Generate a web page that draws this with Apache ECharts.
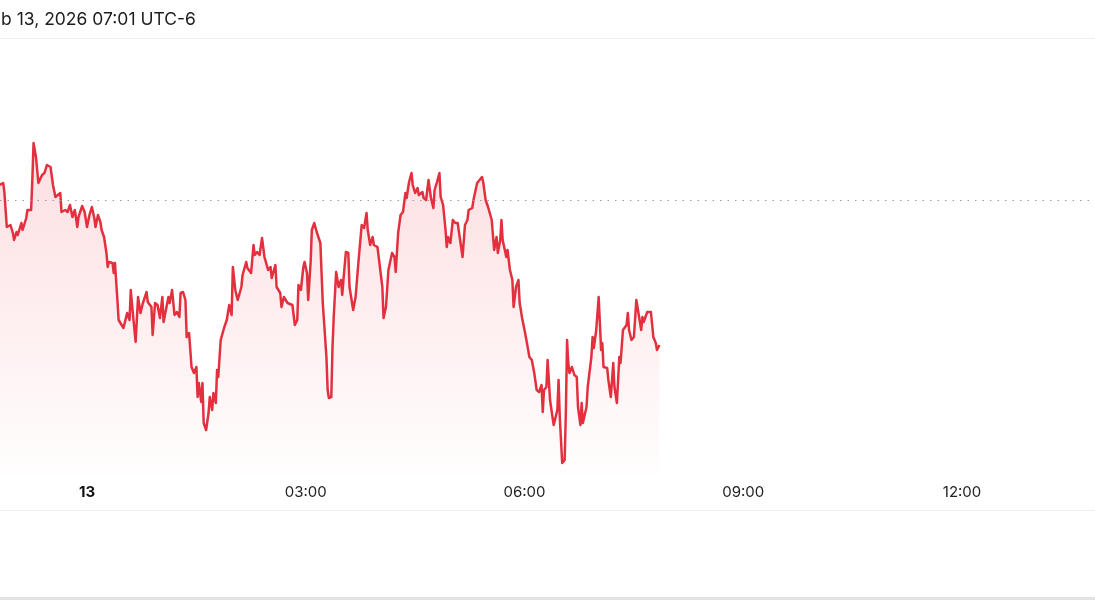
<!DOCTYPE html>
<html>
<head>
<meta charset="utf-8">
<script src="https://cdn.jsdelivr.net/npm/echarts@6/dist/echarts.min.js"></script>
<style>
html,body{margin:0;padding:0;background:#fff;}
#c{width:1095px;height:600px;}
</style>
</head>
<body>
<div id="c"></div>
<script>
// Minutes relative to 00:00 on Feb 13 (negative = Feb 12 evening)
const minutes = [
-72,-69,-68,-67,-66,-63,-61,-60,-58,-57,-54,-53,-50,-49,-46,-45,-44,-42,-40,-37,
-35,-33,-30,-29,-28,-26,-24,-22,-21,-18,-16,-14,-12,-10,-8,-7,-4,-2,0,2,
4,6,7,9,11,12,14,16,17,18,21,22,23,25,26,30,31,33,35,36,
38,40,42,44,46,49,50,53,54,56,58,60,62,63,
67,68,70,72,74,76,77,79,81,82,84,86,88,90,91,92,94,95,96,98,
100,101,103,104,106,107,108,110,113,115,117,119,120,122,124,127,128,131,132,133,
135,137,138,140,142,144,146,147,149,151,152,155,156,159,160,162,165,166,169,171,
173,174,176,178,179,181,182,184,185,187,189,192,194,197,198,199,
201,202,203,205,207,209,210,211,213,215,216,219,221,222,223,226,228,230,231,233,
235,236,239,240,243,244,246,248,251,253,254,256,258,260,262,263,265,267,268,270,
272,273,276,277,279,281,283,285,286,288,290,291,293,295,296,297,299,301,303,305,
307,309,311,313,314,317,318,321,323,325,326,328,330,333,335,337,
338,340,341,342,345,346,348,350,351,353,355,356,358,360,362,364,366,368,370,372,
374,375,376,378,379,381,383,384,387,388,389,391,393,394,395,396,397,399,401,403,
404,406,407,408,411,412,415,416,417,419,421,422,423,424,425,428,429,431,433,434,
436,438,439,441,444,445,446,448,450,452,453,456,457,458,461,462,464,466,468,469,
471
];
const prices = [
3.15,3.17,3.08,3.07,2.73,2.75,2.67,2.60,2.68,2.65,2.77,2.70,2.82,2.90,2.90,3.20,3.57,3.43,3.17,3.25,
3.27,3.35,3.33,3.32,3.15,3.03,3.05,3.07,2.88,2.90,2.88,2.95,2.83,2.90,2.73,2.83,2.94,2.88,2.73,2.85,
2.93,2.82,2.73,2.85,2.78,2.70,2.63,2.47,2.33,2.38,2.37,2.27,2.37,2.00,1.80,1.72,1.77,1.87,1.80,2.10,
1.83,1.58,2.03,1.87,1.97,2.08,1.98,1.93,1.65,1.97,1.95,1.82,2.03,1.78,
2.03,1.97,2.10,1.85,1.88,1.83,2.07,2.08,2.00,1.63,1.67,1.33,1.27,1.33,1.03,1.17,0.98,1.17,0.77,0.70,
0.87,1.03,0.90,1.07,0.97,1.30,1.23,1.60,1.73,1.80,1.95,1.85,2.33,2.10,2.00,2.13,2.25,2.38,2.32,2.33,
2.27,2.55,2.45,2.48,2.45,2.62,2.43,2.45,2.30,2.33,2.22,2.35,2.13,2.07,1.93,2.03,1.97,1.98,1.95,1.75,
1.80,2.15,2.10,2.33,2.38,2.27,2.00,2.38,2.70,2.77,2.68,2.57,1.97,1.43,1.10,1.02,
1.03,1.53,1.83,2.28,2.13,2.20,2.05,2.20,2.48,2.47,2.13,1.90,2.03,2.03,2.33,2.75,2.72,2.87,2.70,2.55,
2.63,2.55,2.53,2.53,2.13,1.82,1.93,2.30,2.47,2.43,2.28,2.67,2.85,2.88,3.07,3.02,3.18,3.27,3.15,3.07,
3.12,3.05,3.08,3.02,3.00,3.20,3.02,2.92,3.10,3.18,3.27,3.03,2.95,2.70,2.53,2.63,2.57,2.80,2.77,2.77,
2.60,2.43,2.75,2.80,2.90,2.92,3.00,3.17,3.20,3.23,3.18,3.00,2.93,2.80,2.50,2.63,
2.47,2.60,2.80,2.60,2.43,2.50,2.30,2.20,1.93,2.13,2.20,1.97,1.82,1.70,1.57,1.43,1.40,1.27,1.10,1.08,
1.15,0.88,1.10,1.13,1.40,1.00,0.83,0.75,0.90,1.20,0.83,0.37,0.40,0.87,1.60,1.37,1.27,1.33,1.25,1.23,
0.93,0.75,0.97,0.77,0.93,1.13,1.43,1.63,1.52,1.70,2.03,1.77,1.50,1.57,1.33,1.32,1.20,1.03,1.37,1.13,
0.97,1.43,1.37,1.70,1.75,1.87,1.70,1.60,1.63,2.00,1.98,1.70,1.83,1.78,1.88,1.87,1.88,1.63,1.57,1.50,
1.55
];
const previousClose = 3.00;
const tickMinutes = [0, 180, 360, 540, 720];
const tickLabels = ['13', '03:00', '06:00', '09:00', '12:00'];
const headerText = 'b 13, 2026 07:01 UTC-6';

const seriesData = minutes.map((m, i) => [m, prices[i]]);

const chart = echarts.init(document.getElementById('c'), null, {renderer: 'canvas'});
chart.setOption({
  animation: false,
  backgroundColor: '#ffffff',
  grid: {left: 0, right: 0, top: 40, bottom: 125, containLabel: false},
  xAxis: {
    type: 'value',
    min: -71.6,
    max: 829.4,
    axisLine: {show: false},
    axisTick: {show: false},
    splitLine: {show: false},
    axisLabel: {
      customValues: tickMinutes,
      margin: 10,
      fontSize: 15,
      color: '#222',
      fontFamily: 'Inter, "Liberation Sans", sans-serif',
      formatter: function (v) {
        const idx = tickMinutes.indexOf(v);
        const t = idx >= 0 ? tickLabels[idx] : '';
        return idx === 0 ? '{b|' + t + '}' : t;
      },
      rich: {b: {fontWeight: 'bold', fontSize: 15, color: '#111', fontFamily: 'Inter, "Liberation Sans", sans-serif'}}
    }
  },
  yAxis: {
    type: 'value',
    min: 0.25,
    max: 4.60,
    show: false,
    splitLine: {show: false}
  },
  graphic: [
    {type: 'text', left: 1, top: 11, style: {text: headerText, fontSize: 17.5, fill: '#1d1d1d', fontFamily: 'Inter, "Liberation Sans", sans-serif'}},
    {type: 'rect', left: 0, top: 38, shape: {width: 1095, height: 1}, style: {fill: '#f1f1f1'}},
    {type: 'rect', left: 0, top: 510, shape: {width: 1095, height: 1}, style: {fill: '#efefef'}},
    {type: 'rect', left: 0, top: 597, shape: {width: 1095, height: 3}, style: {fill: '#e2e2e2'}}
  ],
  series: [{
    type: 'line',
    data: seriesData,
    showSymbol: false,
    symbol: 'none',
    smooth: false,
    lineStyle: {color: '#e3303f', width: 2.5, join: 'round'},
    areaStyle: {
      color: new echarts.graphic.LinearGradient(0, 0, 0, 1, [
        {offset: 0, color: 'rgba(245,60,75,0.24)'},
        {offset: 1, color: 'rgba(245,60,75,0.01)'}
      ])
    },
    markLine: {
      silent: true,
      symbol: 'none',
      label: {show: false},
      lineStyle: {color: '#9c9c9c', width: 1, type: [1.5, 6]},
      data: [{yAxis: previousClose}]
    }
  }]
});
</script>
</body>
</html>
